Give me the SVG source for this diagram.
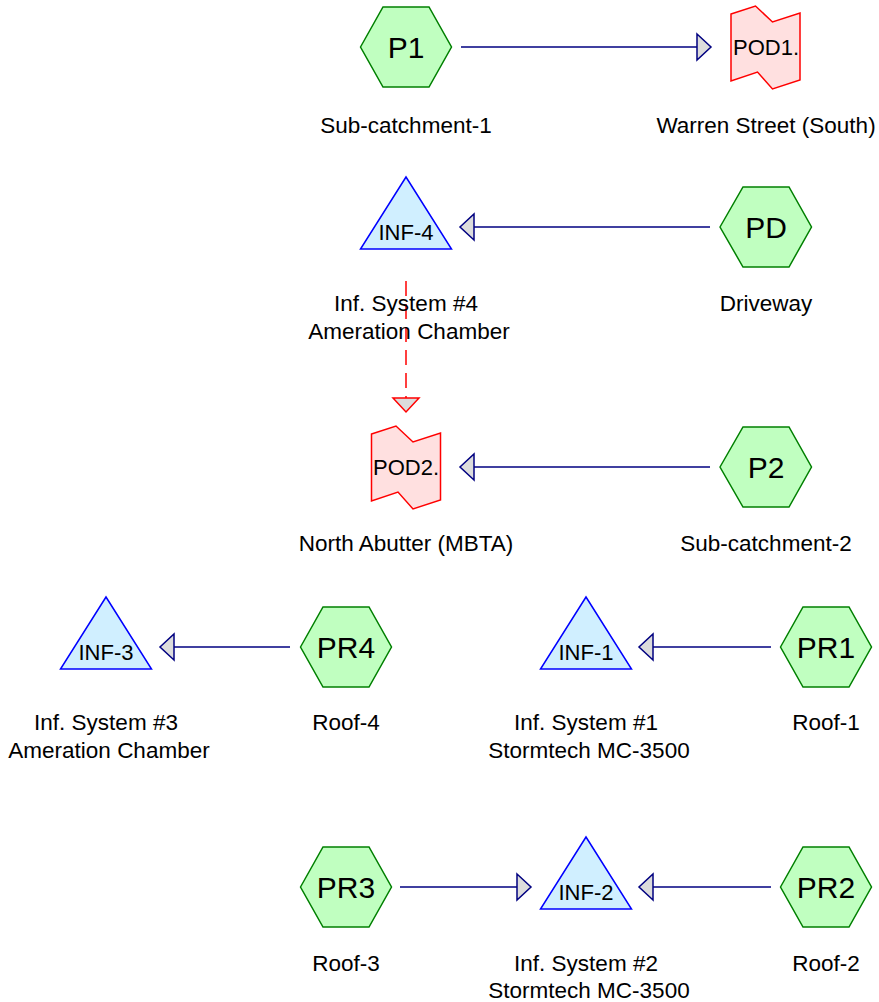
<svg xmlns="http://www.w3.org/2000/svg" width="879" height="1002" viewBox="0 0 879 1002">
<style>
.hex{fill:#c0ffc0;stroke:#008000;stroke-width:1.5}
.tri{fill:#d0efff;stroke:#0000ff;stroke-width:1.5}
.pod{fill:#ffe0e0;stroke:#ff0000;stroke-width:1.5}
.big{font-family:"Liberation Sans",Arial,sans-serif;font-size:30px;text-anchor:middle;fill:#000}
.sm{font-family:"Liberation Sans",Arial,sans-serif;font-size:22px;text-anchor:middle;fill:#000}
.lbl{font-family:"Liberation Sans",Arial,sans-serif;font-size:22.5px;text-anchor:middle;fill:#000}
.flow{stroke:#000080;stroke-width:1.5;fill:none;marker-end:url(#ah)}
.dash{stroke:#ff0000;stroke-width:1.5;fill:none;stroke-dasharray:15 8;marker-end:url(#ahr)}
</style>
<defs>
<marker id="ah" markerUnits="userSpaceOnUse" viewBox="-1 -15 17 30" markerWidth="17" markerHeight="30" refX="0" refY="0" orient="auto">
<path d="M0,-13 L14,0 L0,13 Z" fill="#dcdcdc" stroke="#000080" stroke-width="1.5"/>
</marker>
<marker id="ahr" markerUnits="userSpaceOnUse" viewBox="-1 -15 17 30" markerWidth="17" markerHeight="30" refX="0" refY="0" orient="auto">
<path d="M0,-13 L14,0 L0,13 Z" fill="#dcdcdc" stroke="#ff0000" stroke-width="1.5"/>
</marker>
</defs>
<g id="connectors">
<line class="flow" x1="461" y1="47" x2="697" y2="47"/>
<line class="flow" x1="710" y1="227" x2="474" y2="227"/>
<line class="dash" x1="406" y1="281" x2="406" y2="398"/>
<line class="flow" x1="710" y1="467" x2="474" y2="467"/>
<line class="flow" x1="290" y1="647" x2="174" y2="647"/>
<line class="flow" x1="771" y1="647" x2="653" y2="647"/>
<line class="flow" x1="400" y1="887" x2="517" y2="887"/>
<line class="flow" x1="771" y1="887" x2="653" y2="887"/>
</g>
<g id="P1">
<polygon class="hex" points="360.5,47 383,7 429,7 451.5,47 429,87 383,87"/>
<text class="big" x="406" y="58">P1</text>
<text class="lbl" x="406" y="133">Sub-catchment-1</text>
</g>
<g id="POD1">
<polygon class="pod" points="731,14 755.5,6 772.5,22 800,13 800,80 772.5,89 757.5,72 731,81"/>
<text class="sm" x="766" y="55">POD1.</text>
<text class="lbl" x="766" y="133">Warren Street (South)</text>
</g>
<g id="INF-4">
<polygon class="tri" points="406,177 451.5,249 360.5,249"/>
<text class="sm" x="406" y="240">INF-4</text>
<text class="lbl" x="406" y="311">Inf. System #4</text>
<text class="lbl" x="409" y="339">Ameration Chamber</text>
</g>
<g id="PD">
<polygon class="hex" points="720,227 743,187 789,187 811.5,227 789,267 743,267"/>
<text class="big" x="766" y="238">PD</text>
<text class="lbl" x="766" y="311">Driveway</text>
</g>
<g id="POD2">
<polygon class="pod" points="371.5,434 396,426 413,442 440.5,433 440.5,500 413,509 398,492 371.5,501"/>
<text class="sm" x="406" y="475">POD2.</text>
<text class="lbl" x="406" y="551">North Abutter (MBTA)</text>
</g>
<g id="P2">
<polygon class="hex" points="720,467 743,427 789,427 811.5,467 789,507 743,507"/>
<text class="big" x="766" y="478">P2</text>
<text class="lbl" x="766" y="551">Sub-catchment-2</text>
</g>
<g id="INF-3">
<polygon class="tri" points="106,597 151.5,669 60.5,669"/>
<text class="sm" x="106" y="660">INF-3</text>
<text class="lbl" x="106" y="730">Inf. System #3</text>
<text class="lbl" x="109" y="758">Ameration Chamber</text>
</g>
<g id="PR4">
<polygon class="hex" points="300.5,647 323,607 369,607 391.5,647 369,687 323,687"/>
<text class="big" x="346" y="658">PR4</text>
<text class="lbl" x="346" y="730">Roof-4</text>
</g>
<g id="INF-1">
<polygon class="tri" points="586,597 631.5,669 540.5,669"/>
<text class="sm" x="586" y="660">INF-1</text>
<text class="lbl" x="586" y="730">Inf. System #1</text>
<text class="lbl" x="589" y="758">Stormtech MC-3500</text>
</g>
<g id="PR1">
<polygon class="hex" points="780.5,647 803,607 849,607 871.5,647 849,687 803,687"/>
<text class="big" x="826" y="658">PR1</text>
<text class="lbl" x="826" y="730">Roof-1</text>
</g>
<g id="PR3">
<polygon class="hex" points="300.5,887 323,847 369,847 391.5,887 369,927 323,927"/>
<text class="big" x="346" y="898">PR3</text>
<text class="lbl" x="346" y="971">Roof-3</text>
</g>
<g id="INF-2">
<polygon class="tri" points="586,837 631.5,909 540.5,909"/>
<text class="sm" x="586" y="900">INF-2</text>
<text class="lbl" x="586" y="971">Inf. System #2</text>
<text class="lbl" x="589" y="998">Stormtech MC-3500</text>
</g>
<g id="PR2">
<polygon class="hex" points="780.5,887 803,847 849,847 871.5,887 849,927 803,927"/>
<text class="big" x="826" y="898">PR2</text>
<text class="lbl" x="826" y="971">Roof-2</text>
</g>
</svg>
